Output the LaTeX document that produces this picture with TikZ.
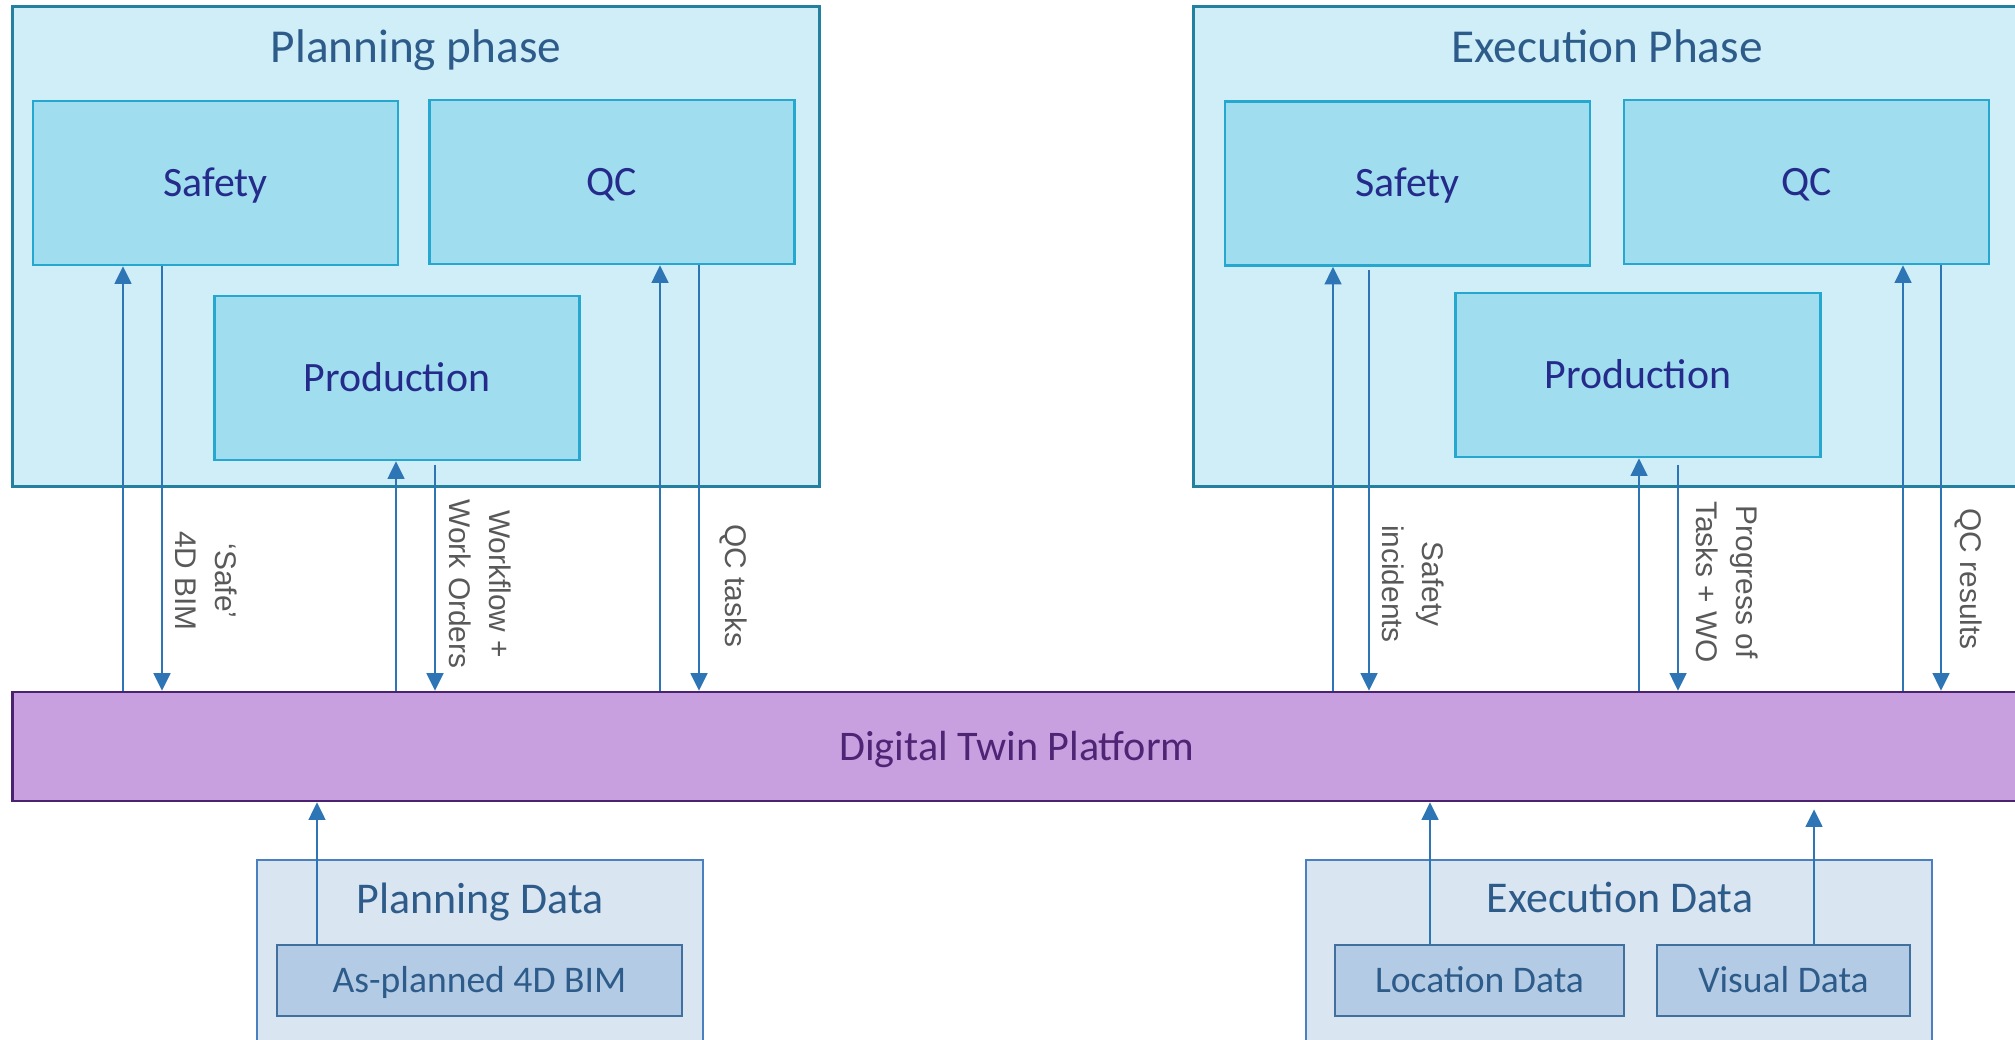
\documentclass[tikz,border=0pt]{standalone}
\usepackage{fontspec}
\setmainfont{Carlito}
\newfontfamily\lblfont{Liberation Sans}
\usepackage{xcolor}
\usetikzlibrary{arrows.meta, positioning}

\definecolor{phasefill}{HTML}{CFEEF7}
\definecolor{phaseline}{HTML}{23809E}
\definecolor{partfill}{HTML}{9FDDEF}
\definecolor{partline}{HTML}{25A7D0}
\definecolor{navytext}{HTML}{252B8A}
\definecolor{steeltext}{HTML}{2E5C8A}
\definecolor{dtpfill}{HTML}{C8A0E0}
\definecolor{dtpline}{HTML}{4A2270}
\definecolor{dtptext}{HTML}{4E2475}
\definecolor{srcfill}{HTML}{DAE5F2}
\definecolor{srcline}{HTML}{4A80C0}
\definecolor{itemfill}{HTML}{B4CBE5}
\definecolor{itemline}{HTML}{41709F}
\definecolor{flowblue}{HTML}{2E75B6}
\definecolor{lblgray}{HTML}{595959}

\begin{document}
\begin{tikzpicture}[
  x=0.02cm, y=-0.02cm,
  phase/.style={draw=phaseline, fill=phasefill, line width=1.7pt, minimum height=9.62cm},
  part/.style={draw=partline, fill=partfill, line width=1.5pt, minimum width=7.3cm, minimum height=3.28cm, text height=15.3pt, text depth=0pt, text=navytext, font=\fontsize{23.8}{28}\selectfont},
  heading/.style={anchor=base, inner sep=0pt, text=steeltext, font=\fontsize{26.9}{32}\selectfont},
  platform/.style={draw=dtpline, fill=dtpfill, line width=1.5pt, minimum width=40.2cm, minimum height=2.18cm, text height=15.5pt, text depth=0pt, text=dtptext, font=\fontsize{24}{28}\selectfont},
  source/.style={draw=srcline, fill=srcfill, line width=1.3pt, minimum height=4cm},
  srchead/.style={anchor=base, inner sep=0pt, text=steeltext, font=\fontsize{25}{30}\selectfont},
  item/.style={draw=itemline, fill=itemfill, line width=1.2pt, minimum height=1.42cm, text height=13.8pt, text depth=0pt, text=steeltext, font=\fontsize{21.4}{26}\selectfont},
  flow/.style={draw=flowblue, line width=1.4pt, -{Triangle[length=10pt, width=9.5pt]}},
  lbl/.style={rotate=-90, align=center, text=lblgray, font=\lblfont\fontsize{17}{22.7}\selectfont}
]
\useasboundingbox (0,0) rectangle (2015,1039);

% phases
\node[phase, minimum width=16.16cm] (planPhase) at (416,246.5) {};
\node[heading] (planHead) at (416,62) {Planning phase};
\node[part] (safeP) at (215.5,183) {Safety};
\node[part] (qcP) at (612,182) {QC};
\node[part] (prodP) at (397,378) {Production};

\node[phase, minimum width=16.56cm] (execPhase) at (1607,246.5) {};
\node[heading] (execHead) at (1607,62) {Execution Phase};
\node[part] (safeE) at (1407.5,183.5) {Safety};
\node[part] (qcE) at (1806.5,182) {QC};
\node[part] (prodE) at (1638,375) {Production};

% platform
\node[platform] (dtp) at (1017,746.5) {Digital Twin Platform};

% data sources
\node[source, minimum width=8.92cm] (planData) at (480,960) {};
\node[srchead] (planDataHead) at (480,913) {Planning Data};
\node[item, minimum width=8.1cm] (asPlanned) at (479.5,980.5) {As-planned 4D BIM};

\node[source, minimum width=12.52cm] (execData) at (1619,960) {};
\node[srchead] (execDataHead) at (1620,912) {Execution Data};
\node[item, minimum width=5.78cm] (locData) at (1479.5,980.5) {Location Data};
\node[item, minimum width=5.06cm] (visData) at (1783.5,980.5) {Visual Data};

% planning flows
\draw[flow] (dtp.north -| 123,0) -- (safeP.south -| 123,0);
\draw[flow] (safeP.south -| 162,0) -- (dtp.north -| 162,0);
\draw[flow] (dtp.north -| 396,0) -- (prodP.south -| 396,0);
\draw[flow] ([yshift=-2pt]prodP.south -| 435,0) -- (dtp.north -| 435,0);
\draw[flow] (dtp.north -| 660,0) -- (qcP.south -| 660,0);
\draw[flow] (qcP.south -| 699,0) -- (dtp.north -| 699,0);

\node[lbl] (safeLbl) at (206,581) {‘Safe’\\4D BIM};
\node[lbl] (workLbl) at (480,584) {Workflow +\\Work Orders};
\node[lbl] (qcLbl) at (733,586) {QC tasks};

% execution flows
\draw[flow] (dtp.north -| 1333,0) -- (safeE.south -| 1333,0);
\draw[flow] ([yshift=-2pt]safeE.south -| 1369,0) -- (dtp.north -| 1369,0);
\draw[flow] (dtp.north -| 1639,0) -- (prodE.south -| 1639,0);
\draw[flow] ([yshift=-4pt]prodE.south -| 1678,0) -- (dtp.north -| 1678,0);
\draw[flow] (dtp.north -| 1903,0) -- (qcE.south -| 1903,0);
\draw[flow] (qcE.south -| 1941,0) -- (dtp.north -| 1941,0);

\node[lbl] (incLbl) at (1413,584) {Safety\\incidents};
\node[lbl] (progLbl) at (1727,582) {Progress of\\Tasks + WO};
\node[lbl] (resLbl) at (1968,579) {QC results};

% data into platform
\draw[flow] (asPlanned.north -| 317,0) -- (dtp.south -| 317,0);
\draw[flow] (locData.north -| 1430,0) -- (dtp.south -| 1430,0);
\draw[flow, shorten >=4pt] (visData.north -| 1814,0) -- (dtp.south -| 1814,0);
\end{tikzpicture}
\end{document}
